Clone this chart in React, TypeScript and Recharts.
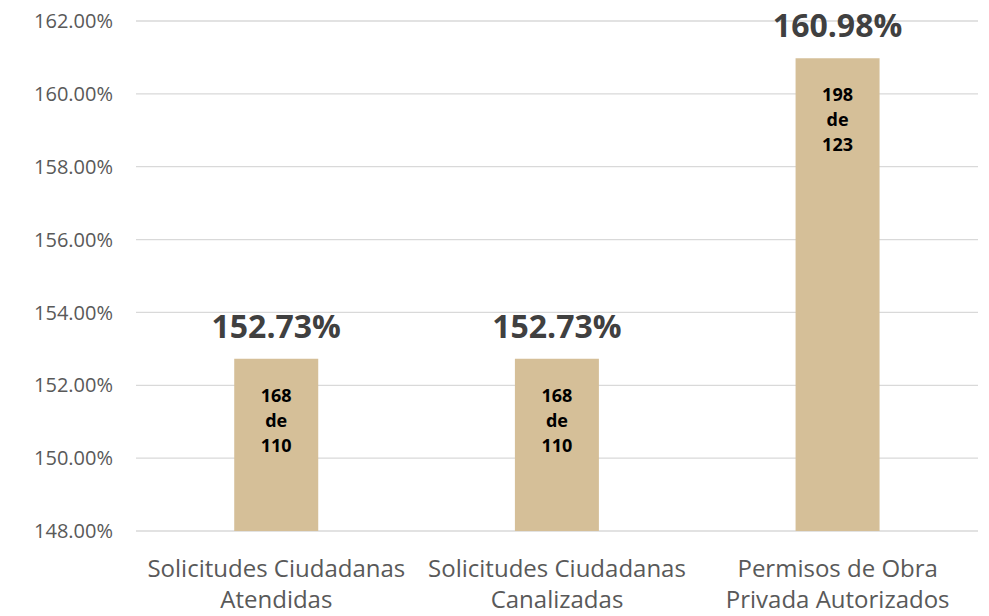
import React from 'react';
import { BarChart, Bar, XAxis, YAxis, CartesianGrid, LabelList } from 'recharts';

const categories = [
  'Solicitudes Ciudadanas Atendidas',
  'Solicitudes Ciudadanas Canalizadas',
  'Permisos de Obra Privada Autorizados',
];
const categoryLines = [
  ['Solicitudes Ciudadanas', 'Atendidas'],
  ['Solicitudes Ciudadanas', 'Canalizadas'],
  ['Permisos de Obra', 'Privada Autorizados'],
];
const percentages = [152.73, 152.73, 160.98];
const achieved = [168, 168, 198];
const targets = [110, 110, 123];
const yTicks = [148, 150, 152, 154, 156, 158, 160, 162];

const FONT = '"Open Sans", sans-serif';

const data = categories.map((name, i) => ({
  name,
  pct: percentages[i],
  achieved: achieved[i],
  target: targets[i],
}));

const CategoryTick = (props: any) => {
  const { x, y, payload } = props;
  const lines = categoryLines[payload.index] || [payload.value];
  return (
    <text x={x} y={y} textAnchor="middle" fill="#595959" fontSize={24} fontFamily={FONT}>
      {lines.map((l: string, i: number) => (
        <tspan key={i} x={x} dy={i === 0 ? 38 : 31}>{l}</tspan>
      ))}
    </text>
  );
};

const TopLabel = (props: any) => {
  const { x, y, width, value } = props;
  return (
    <text x={x + width / 2} y={y - 21} textAnchor="middle" fill="#404040" fontSize={32} fontWeight="bold" fontFamily={FONT}>
      {`${Number(value).toFixed(2)}%`}
    </text>
  );
};

const InsideLabel = (props: any) => {
  const { x, y, width, index } = props;
  const lines = [String(achieved[index]), 'de', String(targets[index])];
  return (
    <text x={x + width / 2} y={y} textAnchor="middle" fill="#000000" fontSize={18} fontWeight="bold" fontFamily={FONT}>
      {lines.map((l, i) => (
        <tspan key={i} x={x + width / 2} dy={i === 0 ? 43 : 25}>{l}</tspan>
      ))}
    </text>
  );
};

export default function App() {
  return (
    <div style={{ position: 'absolute', left: 0, top: 0, background: '#fff' }}>
      <BarChart
        width={989}
        height={616}
        data={data}
        margin={{ top: 21, right: 11, bottom: 0, left: 0 }}
        barCategoryGap="35%"
      >
        <CartesianGrid vertical={false} stroke="#d9d9d9" strokeWidth={1.3} />
        <XAxis
          dataKey="name"
          height={85}
          axisLine={false}
          tickLine={false}
          interval={0}
          tick={<CategoryTick />}
        />
        <YAxis
          width={136}
          domain={[148, 162]}
          ticks={yTicks}
          allowDataOverflow
          axisLine={false}
          tickLine={false}
          tickMargin={17}
          tick={{ fill: '#595959', fontSize: 20, fontFamily: FONT }}
          tickFormatter={(v) => `${Number(v).toFixed(2)}%`}
        />
        <Bar dataKey="pct" fill="#D5BF98" isAnimationActive={false}>
          <LabelList dataKey="pct" content={<TopLabel />} />
          <LabelList dataKey="achieved" content={<InsideLabel />} />
        </Bar>
      </BarChart>
    </div>
  );
}
